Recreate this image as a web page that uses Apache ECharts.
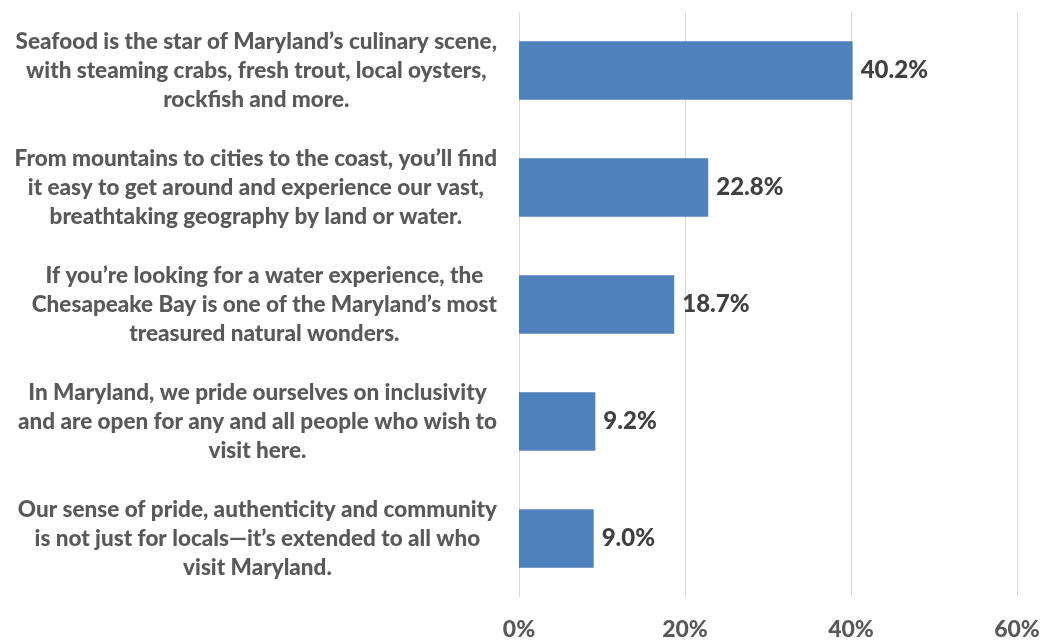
<!DOCTYPE html>
<html>
<head>
<meta charset="utf-8">
<script src="https://cdn.jsdelivr.net/npm/echarts@6/dist/echarts.min.js"></script>
<style>
  html, body { margin: 0; padding: 0; background: #fff; }
  #chart { width: 1043px; height: 642px; }
</style>
</head>
<body>
<div id="chart"></div>
<script>
// Statements, top to bottom, each split into its display lines
const categories = [
  ['Seafood is the star of Maryland\u2019s culinary scene,', 'with steaming crabs, fresh trout, local oysters,', 'rockfish and more.'],
  ['From mountains to cities to the coast, you\u2019ll find', 'it easy to get around and experience our vast,', 'breathtaking geography by land or water.'],
  ['If you\u2019re looking for a water experience, the', 'Chesapeake Bay is one of the Maryland\u2019s most', 'treasured natural wonders.'],
  ['In Maryland, we pride ourselves on inclusivity', 'and are open for any and all people who wish to', 'visit here.'],
  ['Our sense of pride, authenticity and community', 'is not just for locals\u2014it\u2019s extended to all who', 'visit Maryland.']
];
// Share of respondents, percent
const values = [40.2, 22.8, 18.7, 9.2, 9.0];
// Value axis ticks, percent
const axisTicks = [0, 20, 40, 60];

const FONT = 'Lato';
const WEIGHT = 900;
const names = categories.map(lines => lines.join('\n'));

const chart = echarts.init(document.getElementById('chart'));
chart.setOption({
  animation: false,
  backgroundColor: '#ffffff',
  grid: { left: 519, right: 26, top: 12, bottom: 45, containLabel: false },
  xAxis: {
    type: 'value',
    min: axisTicks[0],
    max: axisTicks[axisTicks.length - 1],
    interval: axisTicks[1] - axisTicks[0],
    axisLine: { show: false },
    axisTick: { show: false },
    splitLine: { show: true, lineStyle: { color: '#d9d9d9', width: 1 } },
    axisLabel: {
      formatter: v => v + '%',
      fontFamily: FONT,
      fontWeight: WEIGHT,
      fontSize: 23,
      color: '#595959',
      margin: 21
    }
  },
  yAxis: {
    type: 'category',
    inverse: true,
    data: names,
    axisLine: { show: false },
    axisTick: { show: false },
    splitLine: { show: false },
    axisLabel: {
      margin: 22,
      align: 'right',
      formatter: v => v.split('\n').map(s => '{c|' + s + '}').join('\n'),
      rich: {
        c: {
          align: 'center',
          fontFamily: FONT,
          fontWeight: WEIGHT,
          fontSize: 22.5,
          lineHeight: 29,
          color: '#595959'
        }
      }
    }
  },
  series: [{
    type: 'bar',
    data: values,
    barWidth: '50%',
    itemStyle: { color: '#4f81bd' },
    label: {
      show: true,
      position: 'right',
      distance: 8,
      formatter: p => p.value.toFixed(1) + '%',
      fontFamily: FONT,
      fontWeight: WEIGHT,
      fontSize: 24,
      color: '#404040'
    }
  }]
});
</script>
</body>
</html>
